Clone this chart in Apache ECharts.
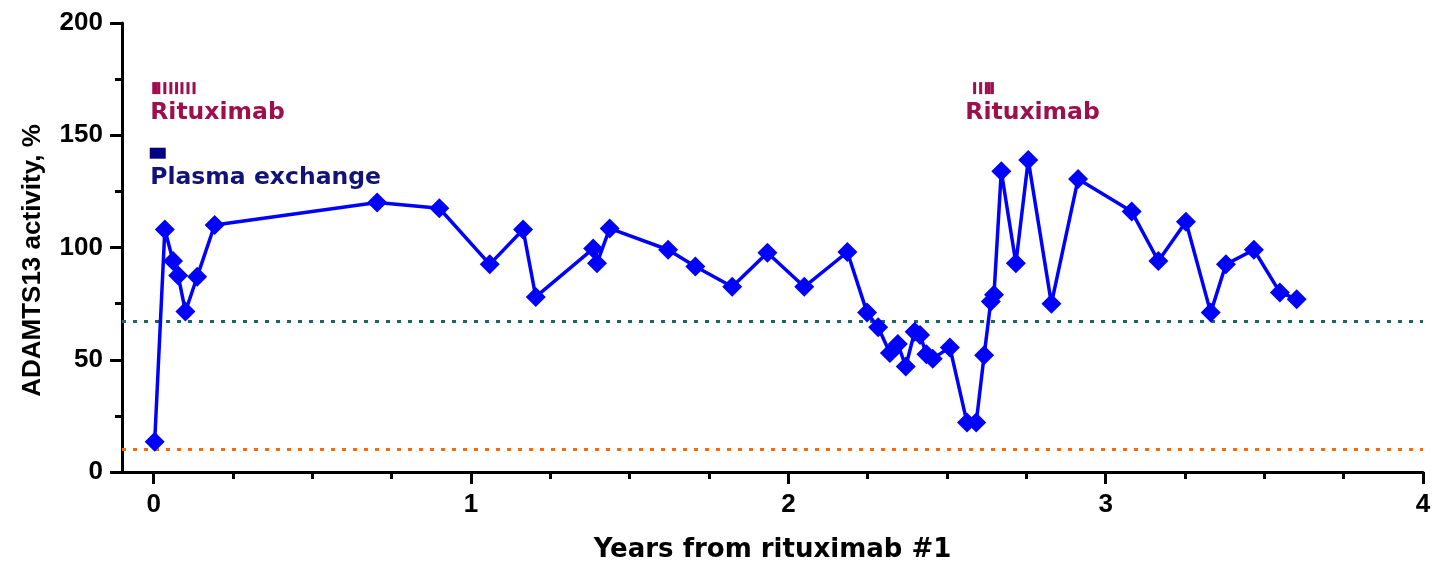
<!DOCTYPE html>
<html>
<head>
<meta charset="utf-8">
<script src="https://cdn.jsdelivr.net/npm/echarts@6/dist/echarts.min.js"></script>
<style>
html,body{margin:0;padding:0;background:#fff;}
#chart{width:1437px;height:566px;}
</style>
</head>
<body>
<div id="chart"></div>
<script>
// ---- data ----
const years = [0.003, 0.035, 0.061, 0.077, 0.100, 0.137, 0.192, 0.704, 0.900, 1.059, 1.164, 1.204, 1.385, 1.397, 1.437, 1.621, 1.707, 1.823, 1.934, 2.050, 2.186, 2.248, 2.283, 2.320, 2.345, 2.370, 2.398, 2.415, 2.435, 2.455, 2.509, 2.563, 2.592, 2.617, 2.638, 2.648, 2.671, 2.717, 2.756, 2.829, 2.913, 3.082, 3.166, 3.253, 3.331, 3.379, 3.467, 3.549, 3.602];
const adamts13 = [13.5, 108, 94, 87.5, 71.5, 87, 110, 120, 117.5, 92.5, 108, 78, 99.5, 93, 108.5, 99, 91.5, 82.5, 97.7, 82.5, 98, 71, 64.5, 53, 57, 47, 62.5, 61, 52.5, 50.5, 55.5, 22, 22, 52, 76, 79, 134, 93, 139, 75, 130.5, 116, 94, 111.5, 71, 92.5, 99, 80, 77];
const rituximabDoses = [0.000, 0.008, 0.016, 0.035, 0.054, 0.072, 0.089, 0.108, 0.127, 2.587, 2.606, 2.624, 2.633, 2.643];
const rituximabLevel = 171;
const plasmaExchange = [0.0126];
const plasmaLevel = 142;
const normalLimit = 67;
const lowLimit = 10;
const xMajorTicks = [0, 1, 2, 3, 4];
const xMinorTicks = [0.25, 0.5, 0.75, 1.25, 1.5, 1.75, 2.25, 2.5, 2.75, 3.25, 3.5, 3.75];
const annotations = [
  {name: 'Rituximab', x: -0.0126, y: 160, color: '#9E0F4E'},
  {name: 'Rituximab', x: 2.556, y: 160, color: '#9E0F4E'},
  {name: 'Plasma exchange', x: -0.0126, y: 131, color: '#12127A'}
];

const mainData = years.map((x, i) => [x, adamts13[i]]);
const ritData = rituximabDoses.map(x => [x, rituximabLevel]);
const peData = plasmaExchange.map(x => [x, plasmaLevel]);

const chart = echarts.init(document.getElementById('chart'));
const axisFont = 'Liberation Sans, Arial, sans-serif';
chart.setOption({
  animation: false,
  backgroundColor: '#ffffff',
  grid: {left: 122, right: 14, top: 23, bottom: 94, outerBoundsMode: 'none'},
  xAxis: [{
    type: 'value', min: -0.1, max: 4,
    name: 'Years from rituximab #1', nameLocation: 'middle', nameGap: 65,
    nameTextStyle: {fontFamily: 'DejaVu Sans', fontWeight: 'bold', fontSize: 26, color: '#000'},
    axisLine: {show: true, onZero: false, lineStyle: {color: '#000', width: 3}},
    axisTick: {show: true, customValues: xMajorTicks, length: 12, lineStyle: {color: '#000', width: 3}},
    axisLabel: {customValues: xMajorTicks, margin: 20, fontFamily: axisFont, fontWeight: 'bold', fontSize: 26, color: '#000'},
    splitLine: {show: false}
  }, {
    type: 'value', min: -0.1, max: 4, position: 'bottom', offset: 0,
    axisLine: {show: false, onZero: false},
    axisTick: {show: true, customValues: xMinorTicks, length: 7, lineStyle: {color: '#000', width: 3}},
    axisLabel: {show: false},
    splitLine: {show: false}
  }],
  yAxis: {
    type: 'value', min: 0, max: 200, interval: 50,
    name: 'ADAMTS13 activity, %', nameLocation: 'middle', nameGap: 76,
    nameTextStyle: {fontFamily: axisFont, fontWeight: 'bold', fontSize: 26, color: '#000', padding: [0, 26, 0, 0]},
    axisLine: {show: true, onZero: false, lineStyle: {color: '#000', width: 3}},
    axisTick: {show: true, length: 12, lineStyle: {color: '#000', width: 3}},
    minorTick: {show: true, splitNumber: 2, length: 7, lineStyle: {color: '#000', width: 3}},
    axisLabel: {margin: 19, fontFamily: axisFont, fontWeight: 'bold', fontSize: 26, color: '#000'},
    splitLine: {show: false}
  },
  series: [{
    type: 'line', name: 'ADAMTS13', data: mainData,
    lineStyle: {color: '#0000FF', width: 3.5},
    itemStyle: {color: '#0000FF', opacity: 1},
    symbol: 'diamond', symbolSize: 20, z: 5,
    markLine: {
      silent: true, symbol: 'none', label: {show: false},
      data: [
        {yAxis: normalLimit, lineStyle: {color: '#1B6468', width: 3, type: [4, 7]}},
        {yAxis: lowLimit, lineStyle: {color: '#FF6A00', width: 3, type: [4, 7]}}
      ]
    }
  }, {
    type: 'scatter', name: 'Rituximab', data: ritData,
    symbol: 'rect', symbolSize: [3, 12],
    itemStyle: {color: '#9E0F4E', opacity: 1}
  }, {
    type: 'scatter', name: 'Plasma exchange', data: peData,
    symbol: 'rect', symbolSize: [16, 11],
    itemStyle: {color: '#000080', opacity: 1}
  }, {
    type: 'scatter', name: 'labels',
    data: annotations.map(a => ({
      value: [a.x, a.y],
      label: {show: true, position: 'right', distance: 0, formatter: a.name, opacity: 1,
        fontFamily: 'DejaVu Sans', fontWeight: 'bold', fontSize: 23.5, color: a.color}
    })),
    symbolSize: 1, itemStyle: {color: 'rgba(0,0,0,0)', opacity: 1}, silent: true
  }]
});
</script>
</body>
</html>
